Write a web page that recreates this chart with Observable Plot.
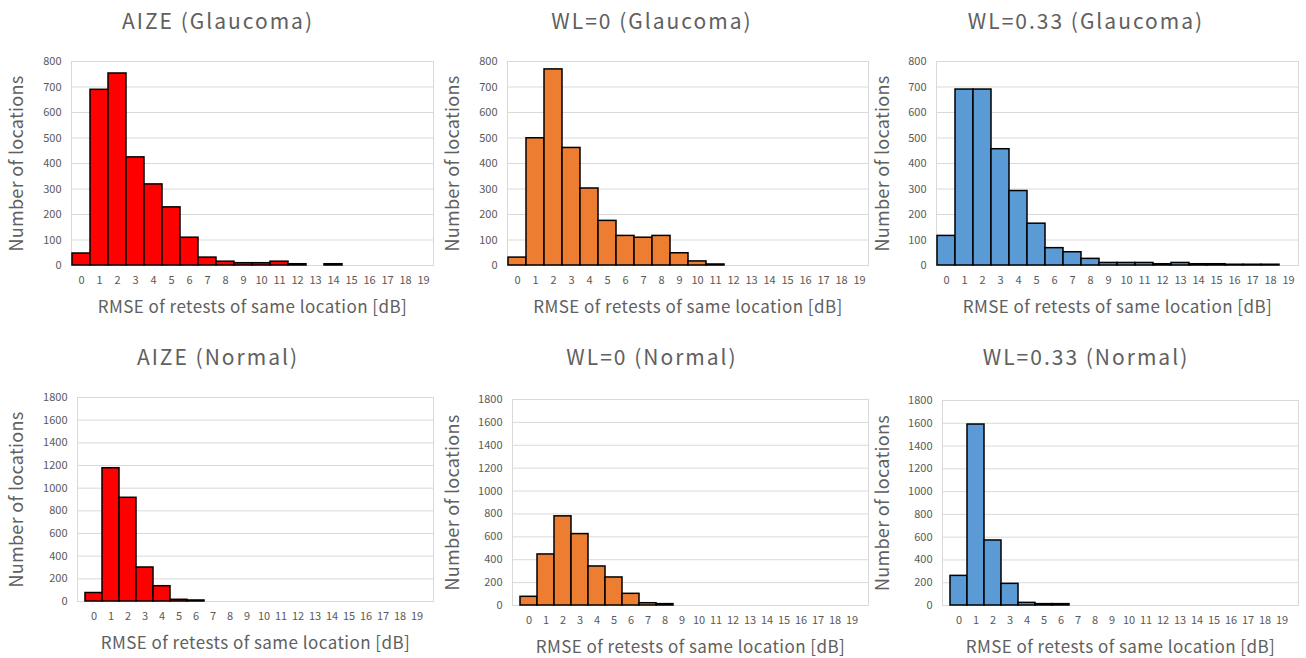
<!DOCTYPE html>
<html>
<head>
<meta charset="utf-8">
<script src="https://cdn.jsdelivr.net/npm/d3@7"></script>
<script src="https://cdn.jsdelivr.net/npm/@observablehq/plot@0.6"></script>
<style>
  html, body { margin: 0; padding: 0; background: #fff; }
  body { width: 1306px; height: 658px; position: relative; overflow: hidden;
         font-family: "Noto Sans CJK JP", "Noto Sans", sans-serif; color: #595959; }
  .panel { position: absolute; }
  .title { position: absolute; width: 400px; height: 30px; line-height: 30px; text-align: center;
           font-size: 21px; letter-spacing: 2px; color: #606060; white-space: nowrap; }
  g[aria-label="y-axis label"] text { font-size: 18px; letter-spacing: 0.3px; fill: #606060; }
  g[aria-label="x-axis label"] text { font-size: 17px; letter-spacing: 0.45px; fill: #606060; }
</style>
</head>
<body>
<script>
// ---- data ----
const bins = ["0","1","2","3","4","5","6","7","8","9","10","11","12","13","14","15","16","17","18","19"];
const aizeGlaucoma  = [47, 689, 753, 424, 318, 228, 109, 31, 15, 9, 9, 15, 5, 0, 5, 0, 0, 0, 0, 0];
const wl0Glaucoma   = [31, 499, 769, 461, 302, 175, 116, 109, 116, 48, 16, 4, 0, 0, 0, 0, 0, 0, 0, 0];
const wl033Glaucoma = [116, 690, 690, 456, 292, 164, 68, 52, 26, 10, 10, 10, 5, 10, 5, 5, 3, 3, 3, 0];
const aizeNormal    = [75, 1176, 915, 300, 135, 15, 9, 0, 0, 0, 0, 0, 0, 0, 0, 0, 0, 0, 0, 0];
const wl0Normal     = [76, 446, 779, 624, 341, 245, 102, 20, 12, 0, 0, 0, 0, 0, 0, 0, 0, 0, 0, 0];
const wl033Normal   = [260, 1589, 571, 190, 23, 12, 12, 0, 0, 0, 0, 0, 0, 0, 0, 0, 0, 0, 0, 0];
const glaucomaTicks = [0, 100, 200, 300, 400, 500, 600, 700, 800];
const normalTicks   = [0, 200, 400, 600, 800, 1000, 1200, 1400, 1600, 1800];
const titles = ["AIZE (Glaucoma)", "WL=0 (Glaucoma)", "WL=0.33 (Glaucoma)",
                "AIZE (Normal)", "WL=0 (Normal)", "WL=0.33 (Normal)"];
const yLabel = "Number of locations";
const xLabel = "RMSE of retests of same location [dB]";

// ---- styling / layout ----
const RED = "#ff0000", ORANGE = "#ed7d31", BLUE = "#5b9bd5";
const FONT = "'Noto Sans CJK JP', 'Noto Sans', sans-serif";

const panels = [
  {values: aizeGlaucoma,  fill: RED,    ticks: glaucomaTicks, box: {x: 0,   y: 40,  w: 440, h: 290, ml: 71, mr: 7,  mt: 21, mb: 65, lo: 61}, title: {cx: 218,  top: 5}},
  {values: wl0Glaucoma,   fill: ORANGE, ticks: glaucomaTicks, box: {x: 440, y: 40,  w: 440, h: 290, ml: 67, mr: 12, mt: 21, mb: 65, lo: 61}, title: {cx: 652,  top: 5}},
  {values: wl033Glaucoma, fill: BLUE,   ticks: glaucomaTicks, box: {x: 870, y: 40,  w: 436, h: 290, ml: 66, mr: 8,  mt: 21, mb: 65, lo: 60}, title: {cx: 1086, top: 5}},
  {values: aizeNormal,    fill: RED,    ticks: normalTicks,   box: {x: 0,   y: 375, w: 440, h: 283, ml: 77, mr: 7,  mt: 22, mb: 57, lo: 67}, title: {cx: 218,  top: 341}},
  {values: wl0Normal,     fill: ORANGE, ticks: normalTicks,   box: {x: 440, y: 375, w: 440, h: 283, ml: 72, mr: 12, mt: 24, mb: 53, lo: 66}, title: {cx: 652,  top: 341}},
  {values: wl033Normal,   fill: BLUE,   ticks: normalTicks,   box: {x: 870, y: 375, w: 436, h: 283, ml: 72, mr: 8,  mt: 25, mb: 53, lo: 66}, title: {cx: 1086, top: 341}}
];

panels.forEach((p, i) => {
  const data = bins.map((b, j) => ({bin: b, count: p.values[j]}));
  const b = p.box;
  const yMax = p.ticks[p.ticks.length - 1];
  const chart = Plot.plot({
    width: b.w, height: b.h,
    marginLeft: b.ml, marginRight: b.mr, marginTop: b.mt, marginBottom: b.mb,
    style: {fontFamily: FONT, color: "#595959", background: "transparent", overflow: "visible"},
    x: {type: "band", domain: bins, padding: 0, label: null},
    y: {domain: [0, yMax], label: null},
    marks: [
      Plot.gridY(p.ticks, {stroke: "#d9d9d9", strokeOpacity: 1, strokeWidth: 1}),
      Plot.frame({stroke: "#d9d9d9", strokeWidth: 1}),
      Plot.barY(data, {x: "bin", y: "count", fill: p.fill, stroke: "#000", strokeWidth: 1.5,
                       filter: d => d.count > 0}),
      Plot.axisY(p.ticks, {tickSize: 0, tickPadding: 10, fontSize: 11, fill: "#595959", tickFormat: "d",
                           label: yLabel, labelAnchor: "center", labelArrow: "none", labelOffset: b.lo}),
      Plot.axisX({tickSize: 0, tickPadding: 11, fontSize: 11, fill: "#595959",
                  label: xLabel, labelAnchor: "center", labelArrow: "none", labelOffset: 47})
    ]
  });
  const wrap = document.createElement("div");
  wrap.className = "panel";
  wrap.style.left = b.x + "px";
  wrap.style.top = b.y + "px";
  wrap.appendChild(chart);
  document.body.appendChild(wrap);

  const t = document.createElement("div");
  t.className = "title";
  t.textContent = titles[i];
  t.style.left = (p.title.cx - 200) + "px";
  t.style.top = p.title.top + "px";
  document.body.appendChild(t);
});
</script>
</body>
</html>
